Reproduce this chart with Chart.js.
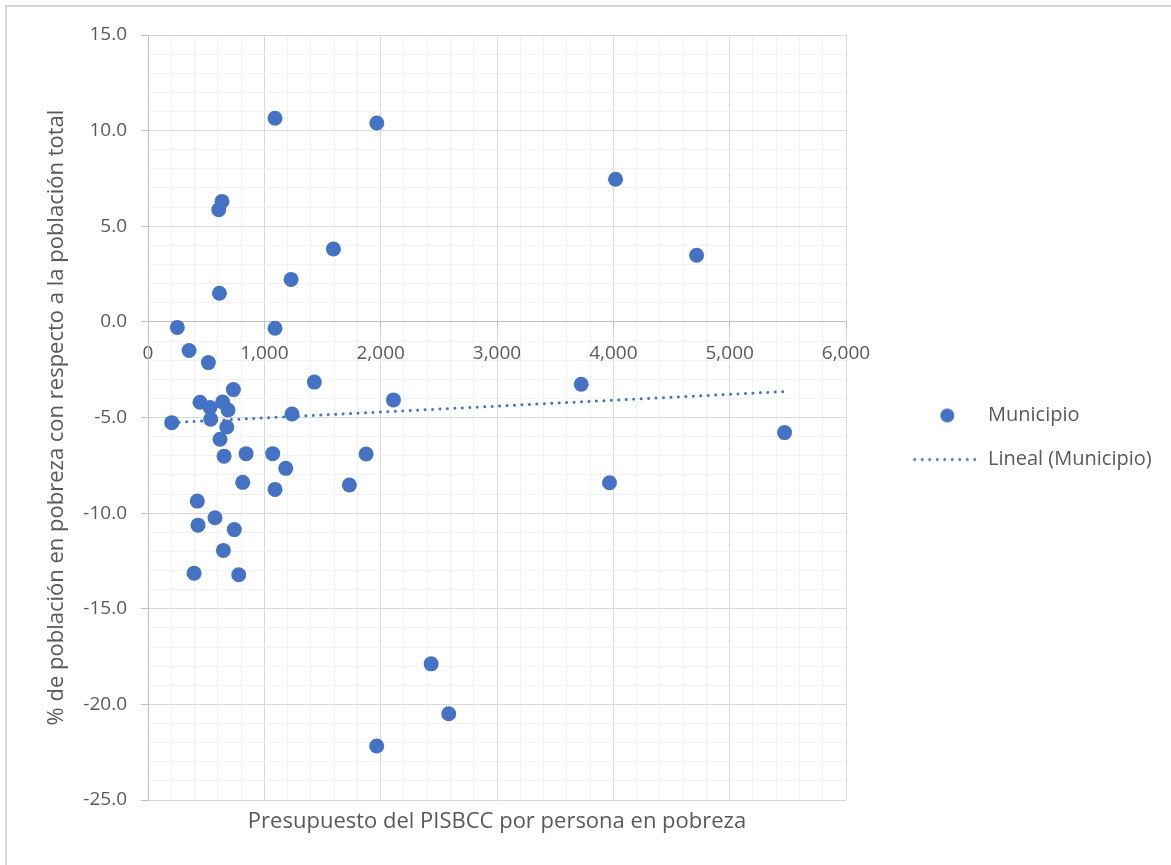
<!DOCTYPE html>
<html>
<head>
<meta charset="utf-8">
<script src="https://cdn.jsdelivr.net/npm/chart.js@4.4.1/dist/chart.umd.min.js"></script>
<style>
  html, body { margin: 0; padding: 0; background: #ffffff; overflow: hidden; }
  #frame { position: absolute; left: 5px; top: 5px; width: 1300px; height: 1000px;
           border-top: 2px solid #d9d9d9; border-left: 2px solid #d9d9d9; box-sizing: border-box; }
  #wrap { position: absolute; left: 0; top: 0; width: 1171px; height: 865px; }
</style>
</head>
<body>
<div id="frame"></div>
<div id="wrap"><canvas id="chart" width="1171" height="865"></canvas></div>
<script>
// Presupuesto del PISBCC por persona en pobreza (x) per municipio
const presupuesto = [
  252, 1092, 353, 519, 1430, 734, 2110, 447, 533, 642,
  688, 1238, 204, 539, 677, 619, 654, 843, 1072, 1875,
  1184, 814, 1092, 1731, 424, 576, 430, 742, 648, 396,
  780, 1092, 1967, 636, 608, 1594, 1230, 614, 4019, 4716,
  3724, 5472, 3967, 2434, 2585, 1966
];
// % de población en pobreza con respecto a la población total (y)
const pobreza = [
  -0.29, -0.33, -1.50, -2.13, -3.15, -3.54, -4.08, -4.20, -4.48, -4.19,
  -4.61, -4.82, -5.27, -5.09, -5.50, -6.14, -7.02, -6.89, -6.89, -6.91,
  -7.66, -8.39, -8.76, -8.53, -9.37, -10.24, -10.63, -10.86, -11.95, -13.14,
  -13.22, 10.65, 10.40, 6.30, 5.86, 3.81, 2.22, 1.50, 7.46, 3.48,
  -3.26, -5.79, -8.41, -17.88, -20.49, -22.18
];

const seriesName = 'Municipio';
const trendName = 'Lineal (Municipio)';
const xTitle = 'Presupuesto del PISBCC por persona en pobreza';
const yTitle = '% de población en pobreza con respecto a la población total';

// Labelled (major) ticks; minor gridlines sit between them
const xMajorTicks = [0, 1000, 2000, 3000, 4000, 5000, 6000];
const xTickLabels = ['0', '1,000', '2,000', '3,000', '4,000', '5,000', '6,000'];
const yMajorTicks = [15, 10, 5, 0, -5, -10, -15, -20, -25];
const yTickLabels = ['15.0', '10.0', '5.0', '0.0', '-5.0', '-10.0', '-15.0', '-20.0', '-25.0'];

const BLUE = '#4472C4';
const TEXT = '#595959';
const FONT = "'Open Sans', 'Noto Sans', sans-serif";
const LEGEND_FONT_SIZE = 20;
const LEGEND_PAD = 24;
const LEGEND_BOX_W = 325;   // legend column to the right of the plot

// Ordinary least squares trend line over the scatter points
function linearFit(xs, ys) {
  const n = xs.length;
  const mx = xs.reduce((a, b) => a + b, 0) / n;
  const my = ys.reduce((a, b) => a + b, 0) / n;
  let sxy = 0, sxx = 0;
  for (let i = 0; i < n; i++) {
    sxy += (xs[i] - mx) * (ys[i] - my);
    sxx += (xs[i] - mx) * (xs[i] - mx);
  }
  const slope = sxy / sxx;
  return { slope, intercept: my - slope * mx };
}
const fit = linearFit(presupuesto, pobreza);
const xLo = Math.min(...presupuesto);
const xHi = Math.max(...presupuesto);
const trendPoints = [xLo, xHi].map(x => ({ x, y: fit.intercept + fit.slope * x }));

const scatterPoints = presupuesto.map((x, i) => ({ x, y: pobreza[i] }));

// Legend swatches: a filled marker and a short dotted stroke
const SWATCH_W = 108;
function swatch(kind) {
  const c = document.createElement('canvas');
  c.width = SWATCH_W; c.height = 18;
  const g = c.getContext('2d');
  g.fillStyle = BLUE; g.strokeStyle = BLUE;
  if (kind === 'point') {
    g.beginPath(); g.arc(77.3, 9, 7, 0, Math.PI * 2); g.fill();
  } else {
    g.lineWidth = 3; g.lineCap = 'round';
    g.setLineDash([0.01, 7.5]);
    g.beginPath(); g.moveTo(44.7, 9); g.lineTo(106, 9); g.stroke();
  }
  return c;
}
const swatches = [swatch('point'), swatch('line')];

// Keeps the legend column at a fixed width so the plot area keeps its size
const legendWidthPin = {
  id: 'legendWidthPin',
  beforeLayout(chart) {
    const lg = chart.legend;
    if (lg && !lg.__pinned) {
      const baseFit = lg.fit;
      lg.fit = function () { baseFit.call(this); this.width = LEGEND_BOX_W; };
      lg.__pinned = true;
    }
  }
};

const isMajor = (v, step) => Math.abs(v % step) < 1e-9;

new Chart(document.getElementById('chart'), {
  type: 'scatter',
  data: {
    datasets: [
      {
        label: seriesName,
        data: scatterPoints,
        backgroundColor: BLUE,
        borderColor: BLUE,
        borderWidth: 0,
        pointRadius: 7.5,
        pointHoverRadius: 7.5
      },
      {
        type: 'line',
        label: trendName,
        data: trendPoints,
        borderColor: BLUE,
        backgroundColor: BLUE,
        borderWidth: 3,
        borderDash: [0.01, 7.45],
        borderCapStyle: 'round',
        pointRadius: 0,
        fill: false
      }
    ]
  },
  plugins: [legendWidthPin],
  options: {
    responsive: false,
    animation: false,
    layout: { padding: { left: 20, top: 35, right: 0, bottom: 25 } },
    plugins: {
      tooltip: { enabled: false },
      legend: {
        position: 'right',
        labels: {
          usePointStyle: true,
          pointStyleWidth: SWATCH_W,
          padding: LEGEND_PAD,
          color: TEXT,
          font: { family: FONT, size: LEGEND_FONT_SIZE },
          generateLabels(chart) {
            const items = Chart.defaults.plugins.legend.labels.generateLabels(chart);
            items.forEach(it => { it.pointStyle = swatches[it.datasetIndex]; it.fontColor = TEXT; });
            return items;
          }
        }
      }
    },
    scales: {
      x: {
        type: 'linear',
        position: { y: 0 },
        min: 0,
        max: 6000,
        afterBuildTicks(scale) {
          const t = [];
          for (let v = 0; v <= 6000; v += 200) t.push({ value: v });
          scale.ticks = t;
        },
        ticks: {
          autoSkip: false,
          maxRotation: 0,
          minRotation: 0,
          padding: 13,
          color: TEXT,
          font: { family: FONT, size: 19 },
          callback(v) {
            const k = xMajorTicks.indexOf(v);
            return k >= 0 ? xTickLabels[k] : '';
          }
        },
        grid: {
          color: c => isMajor(c.tick.value, 1000) ? '#d9d9d9' : '#f2f2f2',
          tickColor: c => isMajor(c.tick.value, 1000) ? '#bfbfbf' : 'rgba(0,0,0,0)',
          tickLength: 7,
          lineWidth: 1
        },
        border: { display: true, color: '#bfbfbf', width: 1 }
      },
      xTitleAxis: {
        type: 'linear',
        axis: 'x',
        position: 'bottom',
        min: 0,
        max: 1,
        ticks: { display: false },
        grid: { display: false, drawTicks: false },
        border: { display: false },
        title: {
          display: true,
          text: xTitle,
          color: TEXT,
          font: { family: FONT, size: 22 },
          padding: { top: 8.8, bottom: 4.8 }
        }
      },
      y: {
        type: 'linear',
        position: 'left',
        min: -25,
        max: 15,
        afterBuildTicks(scale) {
          const t = [];
          for (let v = -25; v <= 15; v += 1) t.push({ value: v });
          scale.ticks = t;
        },
        afterFit(scale) { scale.width = 128; },
        ticks: {
          autoSkip: false,
          padding: 14,
          color: TEXT,
          font: { family: FONT, size: 19 },
          callback(v) {
            const k = yMajorTicks.indexOf(v);
            return k >= 0 ? yTickLabels[k] : '';
          }
        },
        grid: {
          color: c => isMajor(c.tick.value, 5) ? '#d9d9d9' : '#f2f2f2',
          tickColor: c => isMajor(c.tick.value, 5) ? '#bfbfbf' : 'rgba(0,0,0,0)',
          tickLength: 7,
          lineWidth: 1
        },
        border: { display: true, color: '#bfbfbf', width: 1 },
        title: {
          display: true,
          text: yTitle,
          color: TEXT,
          font: { family: FONT, size: 22 },
          padding: { top: 23.8, bottom: 0 }
        }
      }
    }
  }
});
</script>
</body>
</html>
